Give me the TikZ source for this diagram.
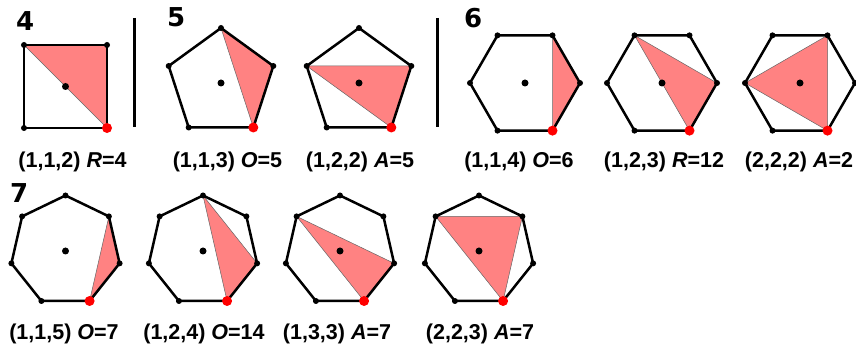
\documentclass[tikz,border=0pt]{standalone}
\usepackage{fontspec}
\setmainfont{Liberation Sans}
\newfontfamily\numfont{DejaVu Sans}
\definecolor{trired}{HTML}{FF8282}
\begin{document}
\begin{tikzpicture}[x=1pt, y=1pt,
    edge/.style={line width=2.5pt, line join=round},
    tri/.style={fill=trired, draw=black!60, line width=0.5pt},
    bar/.style={line width=3pt},
    lab/.style={inner sep=0pt, anchor=base, font=\bfseries\fontsize{21.5}{24}\selectfont},
    num/.style={inner sep=0pt, anchor=base west, font=\numfont\bfseries\fontsize{26}{28}\selectfont}]
      \useasboundingbox (0, 0) rectangle (856, 347);
      % polygons: centre / sides / radius / steps
      \foreach \cx/\cy/\n/\r/\p/\q in {65.5/260.5/4/58.7/1/1, 221/264/5/55/1/1, 359/264/5/55/1/2,
          525/264/6/55/1/1, 662/264/6/55/1/2, 800/264/6/55/2/2,
          65.5/96/7/55.5/1/1, 203/96/7/55.5/1/2, 340/96/7/55.5/1/3, 479/96/7/55.5/2/2} {
        \begin{scope}[shift={(\cx, \cy)}]
          \pgfmathsetmacro\o{-90 + 180/\n}
          \pgfmathsetmacro\s{360/\n}
          \pgfmathtruncatemacro\m{\n - 1}
          \filldraw [tri] ({\o}:\r) -- ({\o + \p*\s}:\r) -- ({\o + (\p + \q)*\s}:\r) -- cycle;
          \draw [edge] ({\o}:\r) \foreach \k in {1, ..., \m} { -- ({\o + \k*\s}:\r) } -- cycle;
          \foreach \k in {1, ..., \m} \fill ({\o + \k*\s}:\r) circle (3pt);
          \fill (0, 0) circle (3.5pt);
          \fill [red] ({\o}:\r) circle (5pt);
        \end{scope}
      }
      \draw [bar] (134, 329) -- (134, 220);
      \draw [bar] (437, 329) -- (437, 220);
      \node [num] (n4) at (16, 316) {4};
      \node [num] (n5) at (167, 320) {5};
      \node [num] (n6) at (464, 319) {6};
      \node [num] (n7) at (10, 144) {7};
      \node [lab] (l112) at (72.5, 179) {(1,1,2) \textit{R}=4};
      \node [lab] (l113) at (227.5, 179) {(1,1,3) \textit{O}=5};
      \node [lab] (l122) at (360, 179) {(1,2,2) \textit{A}=5};
      \node [lab] (l114) at (519, 179) {(1,1,4) \textit{O}=6};
      \node [lab] (l123) at (664, 179) {(1,2,3) \textit{R}=12};
      \node [lab] (l222) at (799, 179) {(2,2,2) \textit{A}=2};
      \node [lab] (l115) at (64, 7) {(1,1,5) \textit{O}=7};
      \node [lab] (l124) at (204, 7) {(1,2,4) \textit{O}=14};
      \node [lab] (l133) at (337, 7) {(1,3,3) \textit{A}=7};
      \node [lab] (l223) at (480, 7) {(2,2,3) \textit{A}=7};
    \end{tikzpicture}
\end{document}
